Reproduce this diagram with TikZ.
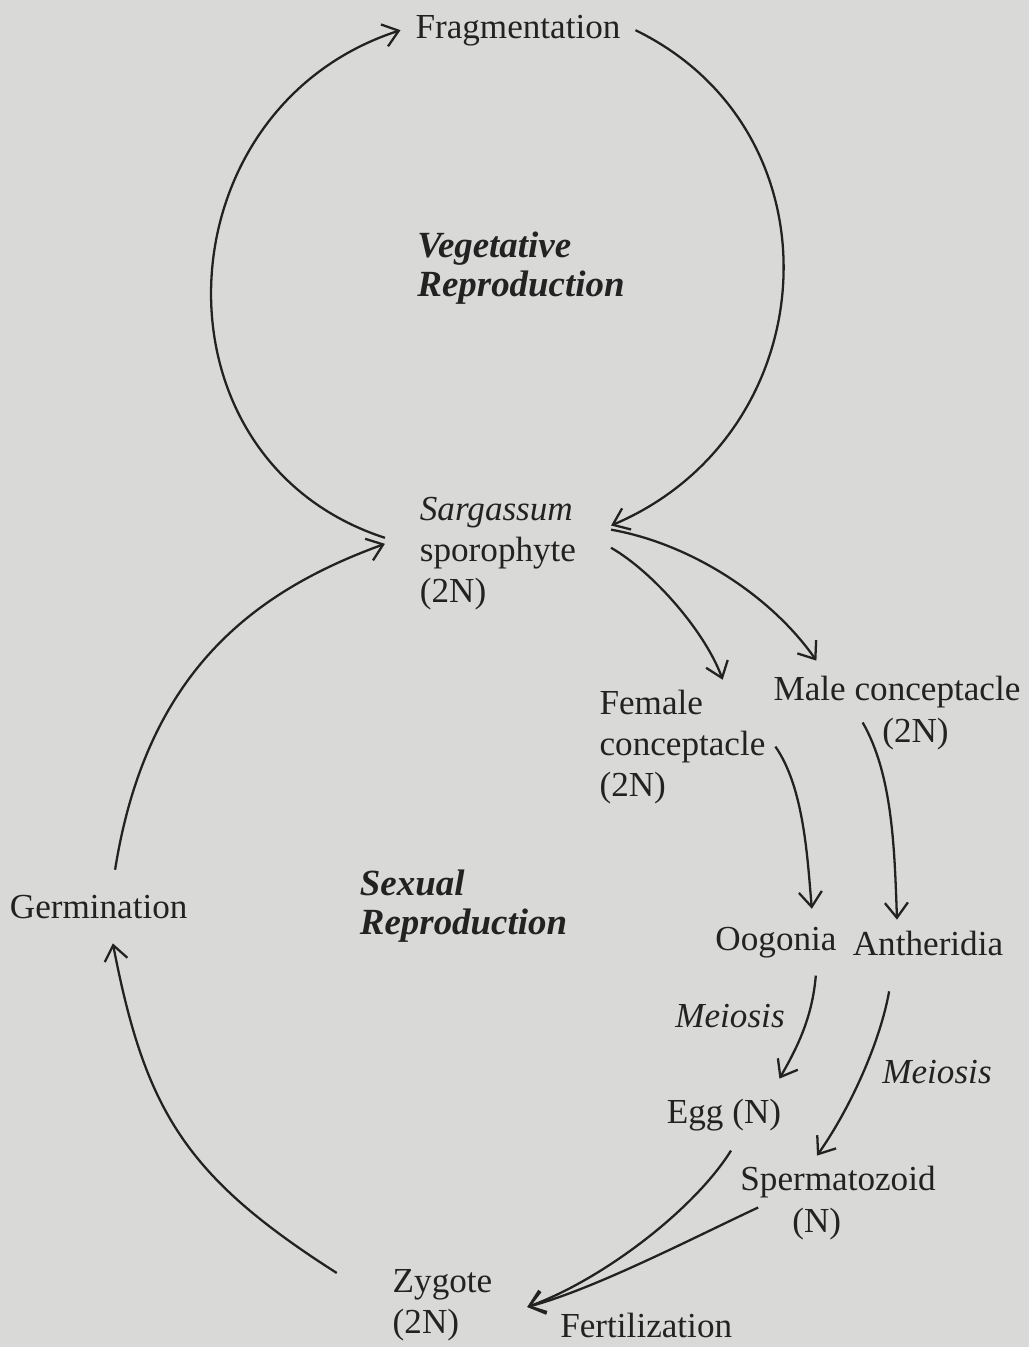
\documentclass[tikz,border=0pt]{standalone}
\usepackage{fontspec}
\setmainfont{Liberation Serif}
\usetikzlibrary{arrows.meta}
\definecolor{paper}{RGB}{217,218,216}
\definecolor{ink}{RGB}{34,34,34}
\tikzset{
  lbl/.style={inner sep=0pt, text=ink, font=\fontsize{20}{23.3}\selectfont},
  note/.style={lbl, font=\fontsize{20}{23.3}\selectfont\itshape},
  repro/.style={lbl, align=left, font=\fontsize{21}{22.3}\selectfont\bfseries\itshape},
  flow/.style={-{Straight Barb[length=3mm,width=4.6mm]}, draw=ink, line width=1.3pt},
}

\begin{document}
\begin{tikzpicture}[x=0.02cm,y=0.02cm]
\fill[paper] (0,0) rectangle (1029,-1347);
\useasboundingbox (0,0) rectangle (1029,-1347);

% vegetative loop
\node[lbl, anchor=base, outer sep=0.3cm] (frag) at (518,-38) {Fragmentation};
\node[repro] (veg) at (521,-268.5) {Vegetative\\Reproduction};
\node[lbl, align=left, outer sep=0.7cm] (spor) at (498,-553.7) {\textit{Sargassum}\\sporophyte\\(2N)};

% sexual side
\node[lbl, align=left, outer sep=0.2cm] (fem) at (682.5,-746.6) {Female\\conceptacle\\(2N)};
\node[lbl, anchor=base, outer sep=0.3cm] (male) at (897,-700) {Male conceptacle};
\node[lbl, anchor=base west] (male2n) at (882,-742) {(2N)};
\node[lbl, anchor=base, outer sep=0.5cm] (germ) at (98.7,-918) {Germination};
\node[repro] (sex) at (463.5,-906) {Sexual\\Reproduction};
\node[lbl, anchor=base, outer sep=0.36cm] (oog) at (776,-950) {Oogonia};
\node[lbl, anchor=base, outer sep=0.22cm] (anth) at (928,-955) {Antheridia};
\node[note, anchor=base west] (meio1) at (675,-1027) {Meiosis};
\node[note, anchor=base west] (meio2) at (882,-1083) {Meiosis};
\node[lbl, anchor=base, outer sep=0.4cm] (egg) at (724,-1123) {Egg (N)};
\node[lbl, anchor=base, outer sep=0.2cm] (sperm) at (838,-1190) {Spermatozoid};
\node[lbl, anchor=base west] (sperm2n) at (792,-1232) {(N)};
\node[lbl, align=left, outer sep=0.7cm] (zyg) at (442.5,-1305.5) {Zygote\\(2N)};
\node[lbl, anchor=base west] (fert) at (560,-1337) {Fertilization};

% arrows
\draw[flow] (spor.172) .. controls +(162:254) and +(198:254) .. (frag.west);
\draw[flow] (frag.east) .. controls +(-26:234) and +(23:234) .. (spor.14);
\draw[flow] (germ.66) .. controls +(81:200) and +(200:140) .. (spor.175);
\draw[flow] ([xshift=-0.42cm]zyg.159) .. controls +(147.5:180) and +(281:170) .. (germ.291);
\draw[flow] (spor.3) .. controls +(-30:50) and +(110:50) .. (fem.59);
\draw[flow] (spor.12) .. controls +(-10:80) and +(125:80) .. (male.159);
\draw[flow] (fem.east) .. controls +(-55:50) and +(95:50) .. (oog.43);
\draw[flow] (male.222) .. controls +(-60:60) and +(92:70) .. (anth.143);
\draw[flow] (oog.-40) .. controls +(-95:40) and +(60:40) .. (egg.33);
\draw[flow] ([yshift=-0.5cm]anth.211) .. controls +(-100:50) and +(55:60) .. (sperm.129);
\draw[flow] (egg.-79) .. controls +(238:70) and +(20:80) .. (zyg.-1);
\draw[flow] (sperm.198) .. controls +(205:70) and +(15:70) .. (zyg.-1);
\end{tikzpicture}
\end{document}
